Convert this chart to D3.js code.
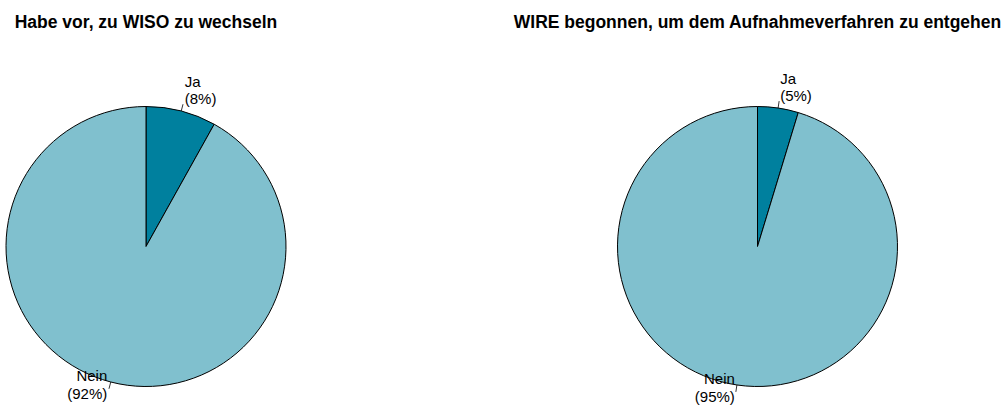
<!DOCTYPE html>
<html>
<head>
<meta charset="utf-8">
<script src="https://cdn.jsdelivr.net/npm/d3@7"></script>
<style>
  body { margin: 0; background: #fff; }
  svg { display: block; font-family: "Liberation Sans", Arial, sans-serif; }
</style>
</head>
<body>
<svg id="chart" width="1003" height="406"></svg>
<script>
'use strict';

var titles     = ["Habe vor, zu WISO zu wechseln",
                  "WIRE begonnen, um dem Aufnahmeverfahren zu entgehen"];
var categories = ["Ja", "Nein"];
var sharesWiso = [8.1, 91.9];
var sharesWire = [4.7, 95.3];
var colors     = ["#00809e", "#80c0ce"];

var width  = 1003,
    height = 406,
    radius = 140,
    cy     = 246.5,
    centers = [146, 757.5];

var svg = d3.select("#chart");

var color = d3.scaleOrdinal().domain(categories).range(colors);

var pie = d3.pie().sort(null).value(function(d){ return d.value; });
var arc = d3.arc().innerRadius(0).outerRadius(radius);

function drawPie(cx, title, shares) {
    var data = categories.map(function(c, i){ return {cat: c, value: shares[i]}; });
    var g = svg.append("g").attr("transform", "translate(" + cx + "," + cy + ")");

    // title, centered above the pie
    svg.append("text")
        .attr("x", cx)
        .attr("y", 27.5)
        .attr("text-anchor", "middle")
        .style("font-weight", "bold")
        .style("font-size", "17.5px")
        .text(title);

    var arcs = pie(data);

    g.selectAll("path.slice").data(arcs).enter().append("path")
        .attr("class", "slice")
        .attr("d", arc)
        .style("fill", function(d){ return color(d.data.cat); })
        .style("stroke", "#000")
        .style("stroke-width", 1);

    // labels like base R pie(): tick from r to 1.05r, text at 1.1r
    arcs.forEach(function(d){
        var a = (d.startAngle + d.endAngle) / 2,
            sx = Math.sin(a), sy = -Math.cos(a);
        g.append("line")
            .attr("x1", sx * radius).attr("y1", sy * radius)
            .attr("x2", sx * radius * 1.05).attr("y2", sy * radius * 1.05)
            .style("stroke", "#000").style("stroke-width", 0.8);

        var lx = sx * radius * 1.1, ly = sy * radius * 1.1,
            upper = sy < 0,
            t = g.append("text")
                .attr("text-anchor", sx < 0 ? "end" : "start")
                .style("font-size", "15px")
                .style("fill", "#000");
        t.append("tspan").attr("x", lx).attr("y", ly + (upper ? -10.5 : -14.5))
            .text(d.data.cat);
        t.append("tspan").attr("x", lx).attr("y", ly + (upper ? 6.5 : 3))
            .text("(" + Math.round(d.data.value) + "%)");
    });
}

drawPie(centers[0], titles[0], sharesWiso);
drawPie(centers[1], titles[1], sharesWire);
</script>
</body>
</html>
